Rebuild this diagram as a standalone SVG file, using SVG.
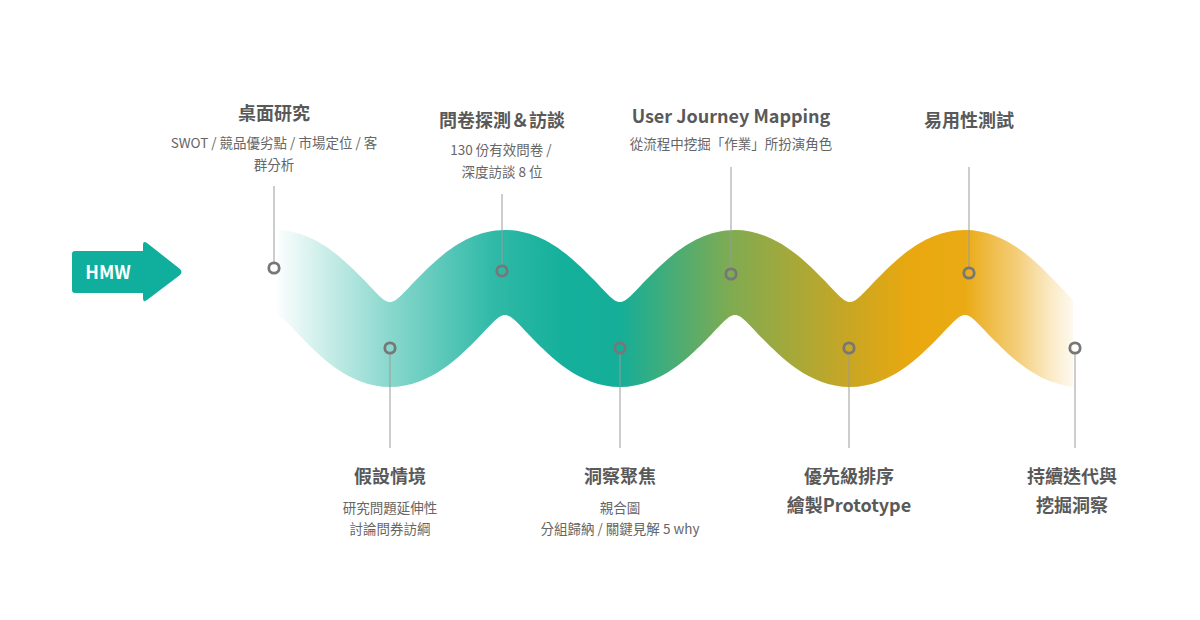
<svg xmlns="http://www.w3.org/2000/svg" width="1200" height="620" viewBox="0 0 1200 620">
<defs>
<linearGradient id="waveGrad" gradientUnits="userSpaceOnUse" x1="278" y1="0" x2="1073" y2="0">
<stop offset="0" stop-color="#14b09b" stop-opacity="0.02"/>
<stop offset="0.14" stop-color="#14b09b" stop-opacity="0.5"/>
<stop offset="0.27" stop-color="#14b09b" stop-opacity="0.88"/>
<stop offset="0.36" stop-color="#14b09b" stop-opacity="1"/>
<stop offset="0.43" stop-color="#15ae98" stop-opacity="1"/>
<stop offset="0.57" stop-color="#80ab51" stop-opacity="1"/>
<stop offset="0.72" stop-color="#c9a623" stop-opacity="1"/>
<stop offset="0.795" stop-color="#e9a80f" stop-opacity="1"/>
<stop offset="0.865" stop-color="#eaaa14" stop-opacity="1"/>
<stop offset="0.93" stop-color="#eeb63a" stop-opacity="0.68"/>
<stop offset="1" stop-color="#f2c560" stop-opacity="0.1"/>
</linearGradient>
<clipPath id="waveClip"><rect x="278" y="200" width="795" height="220"/></clipPath>
</defs>
<style>
.title{font-family:"Noto Sans CJK TC","Noto Sans",sans-serif;font-weight:700;font-size:18px;fill:#595959;text-anchor:middle}
.sub{font-family:"Noto Sans CJK TC","Noto Sans",sans-serif;font-weight:400;font-size:13.5px;fill:#666;text-anchor:middle}
.lead{stroke:#9a9a9a;stroke-width:1;fill:none}
.ring{fill:none;stroke:#777;stroke-width:2.8}
</style>
<rect width="1200" height="620" fill="#ffffff"/>

<g id="wave" clip-path="url(#waveClip)">
<path fill="url(#waveGrad)" d="M275,230 C316,230 346,262 362,278 C376,292 383,302 390,302 C397,302 404,292 418,278 C434,262 464,230 505,230 C546,230 576,262 592,278 C606,292 613,302 620,302 C627,302 634,292 648,278 C664,262 694,230 735,230 C776,230 806,262 822,278 C836,292 843,302 850,302 C857,302 864,292 878,278 C894,262 924,230 965,230 C1006,230 1036,262 1052,278 C1066,292 1073,302 1080,302 L1080,387 C1039,387 1009,355 993,339 C979,325 972,315 965,315 C958,315 951,325 937,339 C921,355 891,387 850,387 C809,387 779,355 763,339 C749,325 742,315 735,315 C728,315 721,325 707,339 C691,355 661,387 620,387 C579,387 549,355 533,339 C519,325 512,315 505,315 C498,315 491,325 477,339 C461,355 431,387 390,387 C349,387 319,355 303,339 C289,325 282,315 275,315 Z"/>
</g>

<g id="hmw">
<path fill="#10ae9c" d="M75,251 L143,251 L143,245 Q143,240 147,243 L180,269 Q183,272 180,275 L147,300 Q143,303 143,298 L143,293 L75,293 Q72,293 72,290 L72,254 Q72,251 75,251 Z"/>
<text x="108" y="279" font-family="'Noto Sans CJK TC','Noto Sans',sans-serif" font-weight="700" font-size="18" fill="#ffffff" text-anchor="middle">HMW</text>
</g>

<g id="connectors">
<line class="lead" x1="274" y1="186" x2="274" y2="263"/>
<line class="lead" x1="502" y1="194" x2="502" y2="265"/>
<line class="lead" x1="731" y1="167" x2="731" y2="268"/>
<line class="lead" x1="969" y1="167" x2="969" y2="267"/>
<line class="lead" x1="390" y1="354" x2="390" y2="448"/>
<line class="lead" x1="620" y1="354" x2="620" y2="448"/>
<line class="lead" x1="849" y1="354" x2="849" y2="448"/>
<line class="lead" x1="1075" y1="354" x2="1075" y2="448"/>
</g>

<g id="step1">
<circle class="ring" cx="274" cy="268" r="5.2"/>
<text class="title" x="274" y="120">桌面研究</text>
<text class="sub" x="274" y="148">SWOT / 競品優劣點 / 市場定位 / 客</text>
<text class="sub" x="274" y="170">群分析</text>
</g>
<g id="step2">
<circle class="ring" cx="390" cy="348" r="5.2"/>
<text class="title" x="390" y="483">假設情境</text>
<text class="sub" x="390" y="513">研究問題延伸性</text>
<text class="sub" x="390" y="534">討論問券訪綱</text>
</g>
<g id="step3">
<circle class="ring" cx="502" cy="271" r="5.2"/>
<text class="title" x="502" y="127">問卷探測＆訪談</text>
<text class="sub" x="501" y="155">130 份有效問卷 /</text>
<text class="sub" x="502" y="177">深度訪談 8 位</text>
</g>
<g id="step4">
<circle class="ring" cx="620" cy="348" r="5.2"/>
<text class="title" x="620" y="483">洞察聚焦</text>
<text class="sub" x="620" y="513">親合圖</text>
<text class="sub" x="620" y="534">分組歸納 / 關鍵見解 5 why</text>
</g>
<g id="step5">
<circle class="ring" cx="731" cy="274" r="5.2"/>
<text class="title" x="731" y="123">User Journey Mapping</text>
<text class="sub" x="731" y="149">從流程中挖掘「作業」所扮演角色</text>
</g>
<g id="step6">
<circle class="ring" cx="849" cy="348" r="5.2"/>
<text class="title" x="849" y="483">優先級排序</text>
<text class="title" x="849" y="512">繪製Prototype</text>
</g>
<g id="step7">
<circle class="ring" cx="969" cy="273" r="5.2"/>
<text class="title" x="969" y="127">易用性測試</text>
</g>
<g id="step8">
<circle class="ring" cx="1075" cy="348" r="5.2"/>
<text class="title" x="1072" y="483">持續迭代與</text>
<text class="title" x="1072" y="512">挖掘洞察</text>
</g>
</svg>
